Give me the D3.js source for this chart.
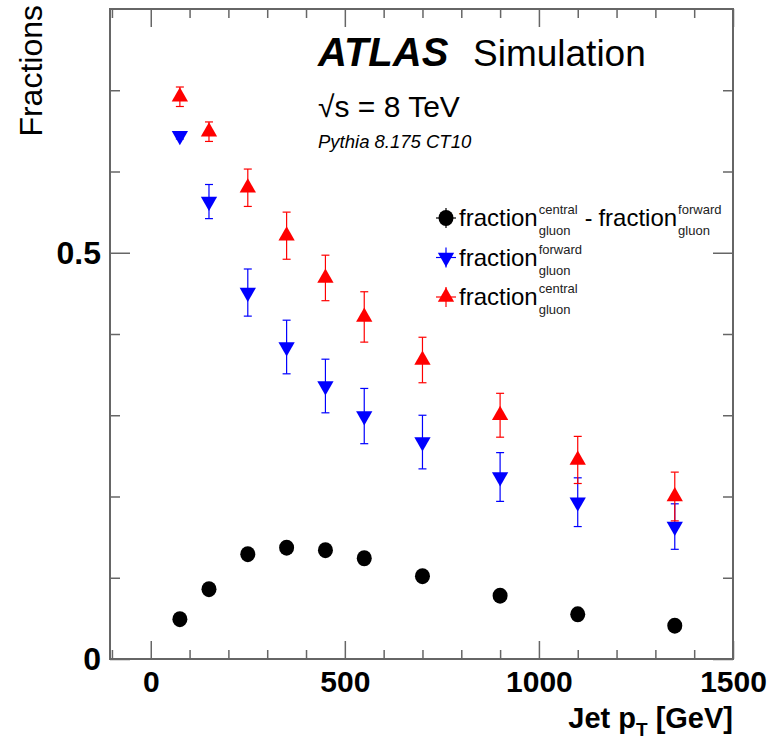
<!DOCTYPE html>
<html>
<head>
<meta charset="utf-8">
<script src="https://cdn.jsdelivr.net/npm/d3@7"></script>
<style>
  body { margin: 0; background: #fff; }
  text { font-family: "Liberation Sans", Arial, Helvetica, sans-serif; }
</style>
</head>
<body>
<svg width="770" height="745"></svg>
<script>
// jet pT bin centres [GeV]
const ptBins = [75, 150, 250, 350, 450, 550, 700, 900, 1100, 1350];

// gluon fractions (central / forward) and their difference
const central    = [0.692, 0.649, 0.580, 0.521, 0.469, 0.421, 0.368, 0.300, 0.245, 0.200];
const centralErr = [0.012, 0.012, 0.023, 0.029, 0.028, 0.031, 0.028, 0.027, 0.029, 0.030];
const forward    = [0.644, 0.563, 0.451, 0.384, 0.336, 0.299, 0.267, 0.224, 0.193, 0.163];
const forwardErr = [0.004, 0.021, 0.029, 0.033, 0.033, 0.034, 0.033, 0.030, 0.030, 0.028];
const diff       = [0.049, 0.086, 0.129, 0.137, 0.134, 0.124, 0.102, 0.078, 0.055, 0.041];
const diffErr    = [0.005, 0.004, 0.004, 0.004, 0.004, 0.004, 0.004, 0.004, 0.004, 0.004];

const xMajor = [0, 500, 1000, 1500];
const yMajor = [0, 0.5];

const svg = d3.select("svg");
const L = 110, R = 733, T = 9, B = 659;

const x = d3.scaleLinear().domain([-105, 1500]).range([L, R]);
const y = d3.scaleLinear().domain([0, 0.8]).range([B, T]);

const axisCol = "#666";

// frame
svg.append("rect")
  .attr("x", L).attr("y", T).attr("width", R - L).attr("height", B - T)
  .attr("fill", "none").attr("stroke", axisCol).attr("stroke-width", 2);

const xMinor = d3.range(-100, 1501, 100).filter(v => !xMajor.includes(v));
const yMinor = d3.range(0.1, 0.8, 0.1).map(v => +v.toFixed(1)).filter(v => !yMajor.includes(v));

function styleAxis(g) {
  g.select(".domain").remove();
  g.selectAll("line").attr("stroke", axisCol).attr("stroke-width", 1.5);
}

// ticks pointing inward on all four sides
svg.append("g").attr("transform", `translate(0,${B})`)
  .call(d3.axisBottom(x).tickValues(xMinor).tickSize(-9).tickFormat(""))
  .call(styleAxis);
svg.append("g").attr("transform", `translate(0,${B})`)
  .call(d3.axisBottom(x).tickValues(xMajor).tickSize(-18).tickPadding(12).tickFormat(d3.format("d")))
  .call(styleAxis)
  .call(g => g.selectAll("text").attr("fill", "#000").attr("font-size", 30).attr("font-weight", "bold"));
svg.append("g").attr("transform", `translate(0,${T})`)
  .call(d3.axisTop(x).tickValues(xMinor).tickSize(-9).tickFormat(""))
  .call(styleAxis);
svg.append("g").attr("transform", `translate(0,${T})`)
  .call(d3.axisTop(x).tickValues(xMajor).tickSize(-18).tickFormat(""))
  .call(styleAxis);

svg.append("g").attr("transform", `translate(${L},0)`)
  .call(d3.axisLeft(y).tickValues(yMinor).tickSize(-10).tickFormat(""))
  .call(styleAxis);
svg.append("g").attr("transform", `translate(${L},0)`)
  .call(d3.axisLeft(y).tickValues(yMajor).tickSize(-20).tickPadding(9).tickFormat(d => d === 0 ? "0" : d3.format(".1f")(d)))
  .call(styleAxis)
  .call(g => g.selectAll("text").attr("fill", "#000").attr("font-size", 32).attr("font-weight", "bold"));
svg.append("g").attr("transform", `translate(${R},0)`)
  .call(d3.axisRight(y).tickValues(yMinor).tickSize(-10).tickFormat(""))
  .call(styleAxis);
svg.append("g").attr("transform", `translate(${R},0)`)
  .call(d3.axisRight(y).tickValues(yMajor).tickSize(-20).tickFormat(""))
  .call(styleAxis);

// axis titles
svg.append("text")
  .attr("transform", "translate(42,5) rotate(-90)")
  .attr("text-anchor", "end").attr("font-size", 32)
  .text("Fractions");

const xt = svg.append("text").attr("x", R).attr("y", 728).attr("text-anchor", "end")
  .attr("font-size", 29).attr("font-weight", "bold");
xt.append("tspan").text("Jet p");
xt.append("tspan").attr("font-size", 19).attr("dy", 8).text("T");
xt.append("tspan").attr("dy", -8).text(" [GeV]");

// series
const series = [
  { val: diff,    err: diffErr,    col: "#000", shape: "circle" },
  { val: forward, err: forwardErr, col: "#00f", shape: "down" },
  { val: central, err: centralErr, col: "#f00", shape: "up" }
];

const triUp = d3.symbol().type(d3.symbolTriangle).size(115);

function marker(g, shape, col) {
  if (shape === "circle") {
    g.append("ellipse").attr("rx", 7.5).attr("ry", 8).attr("fill", col);
  } else {
    g.append("path").attr("d", triUp())
      .attr("transform", shape === "down" ? "rotate(180)" : null)
      .attr("fill", col);
  }
}

series.forEach(s => {
  const pts = ptBins.map((p, i) => ({ p, v: s.val[i], e: s.err[i] }));
  const g = svg.append("g");
  const eb = g.selectAll(".eb").data(pts).enter().append("g");
  eb.append("line")
    .attr("x1", d => x(d.p)).attr("x2", d => x(d.p))
    .attr("y1", d => y(d.v - d.e)).attr("y2", d => y(d.v + d.e))
    .attr("stroke", s.col).attr("stroke-width", 1.2);
  [-1, 1].forEach(sg => {
    eb.append("line")
      .attr("x1", d => x(d.p) - 4).attr("x2", d => x(d.p) + 4)
      .attr("y1", d => y(d.v + sg * d.e)).attr("y2", d => y(d.v + sg * d.e))
      .attr("stroke", s.col).attr("stroke-width", 1.2);
  });
  g.selectAll(".mk").data(pts).enter().append("g")
    .attr("transform", d => `translate(${x(d.p)},${y(d.v)})`)
    .each(function () { marker(d3.select(this), s.shape, s.col); });
});

// labels
svg.append("text").attr("x", 318).attr("y", 66).attr("font-size", 40)
  .attr("font-weight", "bold").attr("font-style", "italic").text("ATLAS");
svg.append("text").attr("x", 473).attr("y", 66).attr("font-size", 37).text("Simulation");
svg.append("text").attr("x", 318).attr("y", 117).attr("font-size", 30).text("\u221As = 8 TeV");
svg.append("text").attr("x", 318).attr("y", 148).attr("font-size", 18.5)
  .attr("font-style", "italic").text("Pythia 8.175 CT10");

// legend
const legend = [
  { shape: "circle", col: "#000", parts: [["central", "gluon"], ["forward", "gluon"]] },
  { shape: "down",   col: "#00f", parts: [["forward", "gluon"]] },
  { shape: "up",     col: "#f00", parts: [["central", "gluon"]] }
];
legend.forEach((l, i) => {
  const cy = 218 + i * 39.5;
  const lg = svg.append("g").attr("transform", `translate(446,${cy})`);
  lg.append("line").attr("x1", 0).attr("x2", 0).attr("y1", -10).attr("y2", 10)
    .attr("stroke", l.col).attr("stroke-width", 1.2);
  lg.append("line").attr("x1", -10).attr("x2", 10).attr("y1", 0).attr("y2", 0)
    .attr("stroke", l.col).attr("stroke-width", 1.2);
  marker(lg, l.shape, l.col);
  let xx = 459;
  l.parts.forEach((pr, k) => {
    if (k > 0) {
      xx += 5;
      const t = svg.append("text").attr("x", xx).attr("y", cy + 8).attr("font-size", 23).text("-");
      xx += t.node().getComputedTextLength() + 6;
    }
    const t = svg.append("text").attr("x", xx).attr("y", cy + 8).attr("font-size", 24).text("fraction");
    xx += t.node().getComputedTextLength() + 1;
    const sup = svg.append("text").attr("x", xx).attr("y", cy - 4).attr("font-size", 13).attr("fill", "#222").text(pr[0]);
    const sub = svg.append("text").attr("x", xx).attr("y", cy + 17).attr("font-size", 13).attr("fill", "#222").text(pr[1]);
    xx += Math.max(sup.node().getComputedTextLength(), sub.node().getComputedTextLength()) + 2;
  });
});
</script>
</body>
</html>
